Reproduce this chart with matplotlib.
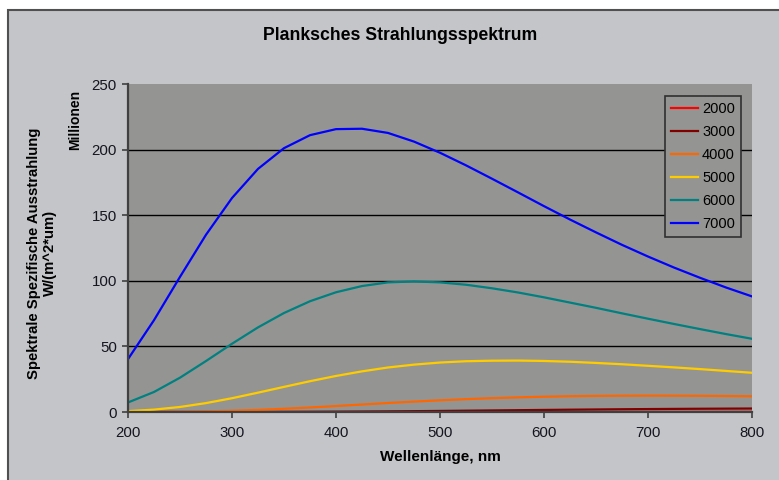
import matplotlib
matplotlib.use('Agg')
import matplotlib.pyplot as plt
from matplotlib.patches import Rectangle

plt.rcParams['font.family'] = ['Liberation Sans', 'DejaVu Sans']

# Wellenlänge in nm
wellenlaenge = [200, 225, 250, 275, 300, 325, 350, 375, 400, 425, 450, 475, 500,
                525, 550, 575, 600, 625, 650, 675, 700, 725, 750, 775, 800]

# spektrale Ausstrahlung in Millionen W/(m^2*um)
s2000 = [0, 0, 0, 0, 0, 0, 0, 0, 0.001, 0.001, 0.002, 0.004, 0.007, 0.010, 0.015,
         0.021, 0.029, 0.038, 0.048, 0.060, 0.073, 0.087, 0.10, 0.116, 0.13]
s3000 = [0, 0, 0.002, 0.006, 0.018, 0.04, 0.08, 0.14, 0.23, 0.34, 0.48, 0.64, 0.81,
         1.00, 1.19, 1.38, 1.58, 1.76, 1.93, 2.10, 2.24, 2.37, 2.48, 2.57, 2.65]
s4000 = [0.02, 0.07, 0.22, 0.50, 0.96, 1.61, 2.45, 3.44, 4.54, 5.70, 6.85, 7.92, 8.91,
         9.79, 10.54, 11.16, 11.66, 12.03, 12.28, 12.43, 12.48, 12.45, 12.35, 12.18, 11.98]
s5000 = [0.66, 1.81, 3.84, 6.79, 10.51, 14.74, 19.15, 23.47, 27.47, 30.98, 33.93, 36.1, 37.7,
         38.7, 39.1, 39.2, 38.9, 38.3, 37.4, 36.4, 35.2, 34.0, 32.7, 31.3, 29.9]
s6000 = [7.26, 15.26, 26.16, 38.85, 52.02, 64.49, 75.45, 84.43, 91.26, 96.0, 98.8, 99.5, 98.8,
         97.0, 94.3, 91.1, 87.4, 83.4, 79.4, 75.2, 71.1, 67.1, 63.2, 59.4, 55.8]
s7000 = [40.3, 70.0, 103.0, 135.1, 163.1, 185.3, 201.1, 211.0, 215.6, 215.9, 212.7, 206.1, 197.6,
         188.0, 177.8, 167.4, 156.9, 146.7, 136.9, 127.4, 118.5, 110.1, 102.3, 94.9, 88.1]

temperaturen = ['2000', '3000', '4000', '5000', '6000', '7000']
reihen = [s2000, s3000, s4000, s5000, s6000, s7000]
farben = ['#FF0000', '#800000', '#FF6600', '#FFCC00', '#008080', '#0000FF']

fig = plt.figure(figsize=(7.79, 4.80), dpi=100, facecolor='white')

# Diagrammfläche (grau, mit Rahmen oben und links)
fig.patches.append(Rectangle((8 / 779, -0.05), 1.2, 1.05 - 10 / 480,
                             transform=fig.transFigure, facecolor='#c3c5c8',
                             edgecolor='#505050', linewidth=1.5, zorder=-5))

ax = fig.add_axes([128 / 779, 1 - 412 / 480, 624 / 779, 328 / 480])
ax.set_facecolor('#949592')

for name, werte, farbe in zip(temperaturen, reihen, farben):
    ax.plot(wellenlaenge, werte, color=farbe, lw=1.6, label=name, zorder=2)

ax.set_xlim(200, 800)
ax.set_ylim(0, 250)
ax.set_xticks([200, 300, 400, 500, 600, 700, 800])
ax.set_yticks([0, 50, 100, 150, 200, 250])

ax.grid(axis='y', color='black', lw=1)
for gl in ax.get_ygridlines()[-1:]:
    gl.set_visible(False)

for s in ['top', 'right']:
    ax.spines[s].set_visible(False)
for s in ['left', 'bottom']:
    ax.spines[s].set_color('#404040')
    ax.spines[s].set_linewidth(1.6)
    ax.spines[s].set_zorder(4)

ax.tick_params(axis='both', direction='out', length=4, width=1.2, color='#404040',
               labelsize=10.8, labelcolor='#151520')
ax.tick_params(axis='x', pad=6)
ax.tick_params(axis='y', pad=4)

ax.set_xlabel('Wellenlänge, nm', fontsize=11, fontweight='bold', labelpad=7)

fig.text(400 / 779, 1 - 36 / 480, 'Planksches Strahlungsspektrum', ha='center', va='center',
         fontsize=12.7, fontweight='bold')
fig.text(42 / 779, 1 - 253 / 480, 'Spektrale Spezifische Ausstrahlung\nW/(m^2*um)',
         ha='center', va='center', rotation=90, fontsize=10.7, fontweight='bold',
         multialignment='center', linespacing=1.1)
fig.text(75 / 779, 1 - 120 / 480, 'Millionen', ha='center', va='center', rotation=90,
         fontsize=10, fontweight='bold')

leg = ax.legend(loc='upper right', bbox_to_anchor=(0.982, 0.963), borderaxespad=0,
                fancybox=False, framealpha=1, fontsize=10.5, handlelength=1.9,
                handletextpad=0.25, labelspacing=0.62, borderpad=0.4)
leg.get_frame().set_facecolor('#949592')
leg.get_frame().set_edgecolor('#303030')
leg.get_frame().set_linewidth(1.2)

fig.savefig('out.png', dpi=100, facecolor=fig.get_facecolor())
